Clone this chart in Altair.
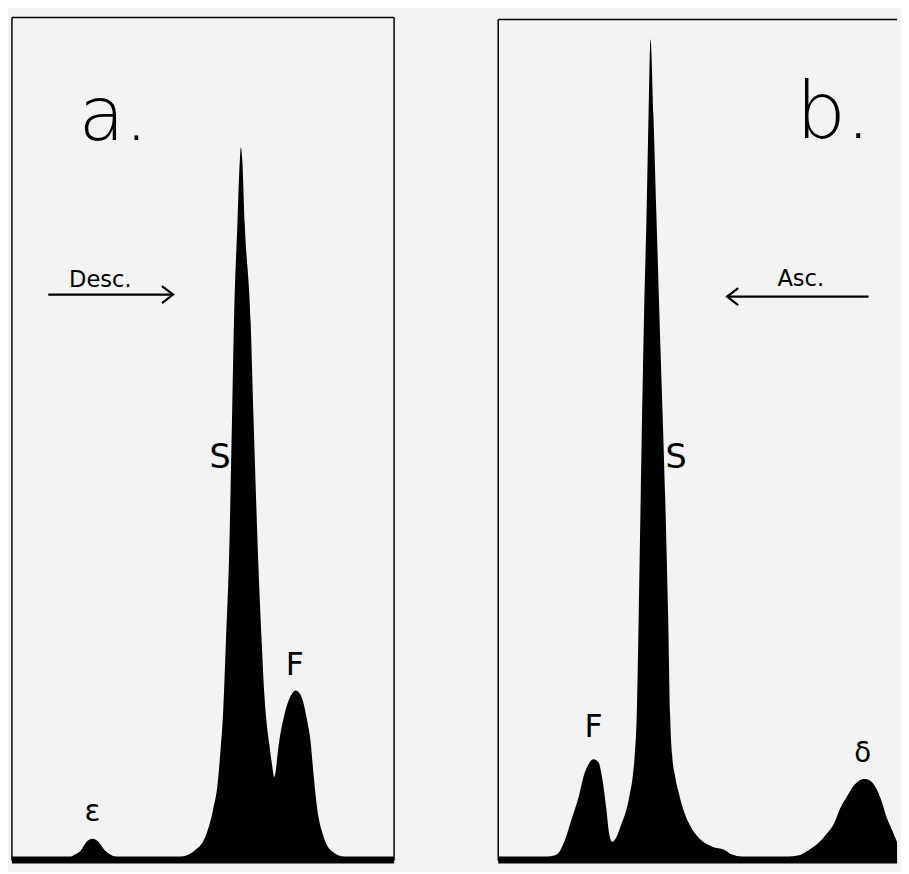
import altair as alt
import pandas as pd

# ---- Panel a (descending boundary): position along cell, gradient height ----
a_pos = [8, 68, 72, 78, 84, 90, 96, 102, 108, 114, 180, 188, 195, 203, 208, 213, 217, 220, 223, 226,
         229, 232, 234, 237.5, 240, 241, 242.5, 245, 251, 254, 259, 262, 265, 267, 270, 273, 275, 280, 286, 292,
         297, 303, 308, 312, 315, 319, 325, 333, 347, 397]
a_height = [4, 4, 6, 10, 19, 22, 19, 11, 6, 4, 4, 6, 11, 20, 33, 53, 75, 108, 151, 228,
            308, 448, 548, 648, 713, 726, 713, 648, 548, 448, 298, 228, 168, 143, 118, 96, 85, 121, 151, 168,
            173, 166, 145, 121, 88, 51, 25, 10, 4, 4]

# ---- Panel b (ascending boundary) ----
b_pos = [495, 545, 552, 558, 563, 570, 577, 582, 587, 592, 597, 601, 605, 608, 611, 615, 620, 625, 629, 632,
         634, 636, 638, 640, 643.5, 646, 648, 650, 653, 656, 659, 665, 668, 670, 672, 675, 679, 684, 690, 700,
         713, 725, 733, 743, 790, 800, 810, 820, 830, 837, 843, 850, 856, 862, 868, 874, 880, 886, 890, 895,
         900, 904, 908, 915]
b_height = [4, 4, 5, 10, 21, 43, 65, 86, 98, 103, 100, 83, 53, 27, 19, 23, 36, 50, 68, 86,
            108, 148, 248, 368, 558, 658, 758, 836, 758, 658, 558, 368, 248, 148, 108, 86, 68, 50, 36, 22,
            14, 11, 6, 4, 4, 5, 10, 17, 28, 38, 53, 65, 75, 81, 83, 81, 73, 58, 45, 33,
            21, 10, 4, 4]

a_labels = ["a.", "Desc.", "S", "F", "ε"]
b_labels = ["b.", "Asc.", "S", "F", "δ"]

H = 858
WA = 389
WB = 406
FONT = "DejaVu Sans"
one = pd.DataFrame({"k": [0]})


def curve(pos, height, domain):
    df = pd.DataFrame({"pos": pos, "h": height})
    return alt.Chart(df).mark_area(color="black", interpolate="monotone", clip=True).encode(
        x=alt.X("pos:Q", scale=alt.Scale(domain=domain, nice=False, zero=False), axis=None),
        y=alt.Y("h:Q", scale=alt.Scale(domain=[0, H], nice=False), axis=None),
    )


def text(t, x, y, size, weight="normal", align="center"):
    return alt.Chart(one).mark_text(
        font=FONT, fontSize=size, fontWeight=weight, align=align, baseline="alphabetic", color="black"
    ).encode(x=alt.value(x), y=alt.value(y), text=alt.value(t))


def hrule(x1, x2, y, w):
    return alt.Chart(one).mark_rule(color="black", strokeWidth=w).encode(
        x=alt.value(x1), x2=alt.value(x2), y=alt.value(y))


def vrule(x, y1, y2, w):
    return alt.Chart(one).mark_rule(color="black", strokeWidth=w).encode(
        x=alt.value(x), y=alt.value(y1), y2=alt.value(y2))


def head(x, y, path):
    return alt.Chart(one).mark_point(
        shape=path, size=300, filled=False, color="black", strokeWidth=2.2, opacity=1
    ).encode(x=alt.value(x), y=alt.value(y))


RIGHT = "M-1.3,-1L0,0L-1.3,1"
LEFT = "M1.3,-1L0,0L1.3,1"

panel_a = alt.layer(
    curve(a_pos, a_height, [8, 397]),
    vrule(0, 0, H, 1.5),
    vrule(WA, 0, H, 1.5),
    hrule(0, WA, 0, 1.5),
    hrule(0, WA, H, 6),
    text(a_labels[0], 68, 125, 76, weight=200, align="left"),
    text(a_labels[1], 90, 274, 23),
    hrule(37, 164, 282, 2.2),
    head(164, 282, RIGHT),
    text(a_labels[2], 212, 458, 34),
    text(a_labels[3], 288, 669, 32),
    text(a_labels[4], 82, 818, 30),
).properties(width=WA, height=H)

panel_b = alt.layer(
    curve(b_pos, b_height, [495, 901]),
    vrule(0, 2, H, 1.5),
    hrule(0, WB, 2, 1.5),
    hrule(0, WB, H, 6),
    text(b_labels[0], 303, 123, 80, weight=200, align="left"),
    text(b_labels[1], 308, 273, 23),
    hrule(233, 377, 284, 2.2),
    head(233, 284, LEFT),
    text(b_labels[2], 181, 458, 34),
    text(b_labels[3], 97, 732, 32),
    text(b_labels[4], 371, 758, 28),
).properties(width=WB, height=H)

chart = alt.hconcat(panel_a, panel_b, spacing=98).properties(
    padding=0, background="#f3f3f3"
).configure_view(stroke="transparent")

chart.save("out.html", embed_options={"renderer": "svg", "actions": False})
